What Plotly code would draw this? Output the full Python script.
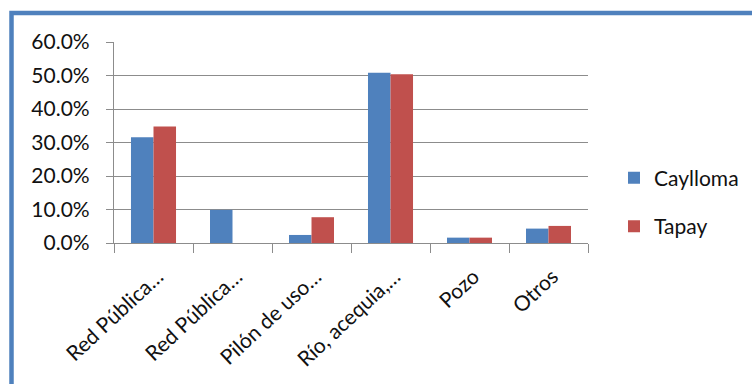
import plotly.graph_objects as go

categories = ["Red Pública…", "Red Pública…", "Pilón de uso…", "Río, acequia,…", "Pozo", "Otros"]
cat_ids = ["c1", "c2", "c3", "c4", "c5", "c6"]
caylloma = [0.316, 0.099, 0.024, 0.508, 0.016, 0.043]
tapay = [0.348, 0.0, 0.077, 0.504, 0.016, 0.051]
ytick_vals = [0, 0.1, 0.2, 0.3, 0.4, 0.5, 0.6]
ytick_text = ["0.0%", "10.0%", "20.0%", "30.0%", "40.0%", "50.0%", "60.0%"]

W, H = 752, 384
L, R, T, B = 114, 588, 42, 243.5
FONT = "Lato"

fig = go.Figure()
fig.add_trace(go.Bar(x=cat_ids, y=caylloma, name="Caylloma",
                     marker=dict(color="#4F81BD", line=dict(width=0)),
                     legendgroup="a"))
fig.add_trace(go.Bar(x=cat_ids, y=tapay, name="Tapay",
                     marker=dict(color="#C0504D", line=dict(width=0)),
                     legendgroup="b"))

def px2paper_x(px):
    return (px - L) / (R - L)

def px2paper_y(py):
    return (B - py) / (B - T)

# blue frame around the chart
fig.add_shape(type="rect", xref="paper", yref="paper",
              x0=px2paper_x(11.5), x1=px2paper_x(800), y0=px2paper_y(420), y1=px2paper_y(13),
              line=dict(color="#4F81BD", width=4.5), fillcolor="rgba(0,0,0,0)", layer="above")

fig.update_layout(
    width=W, height=H,
    margin=dict(l=L, r=W - R, t=T, b=H - B, pad=0, autoexpand=False),
    paper_bgcolor="white", plot_bgcolor="white",
    barmode="group", bargap=0.43, bargroupgap=0,
    font=dict(family=FONT, size=21, color="#111111"),
    showlegend=True,
    legend=dict(x=px2paper_x(614), y=px2paper_y(158), xanchor="left", yanchor="top",
                font=dict(family=FONT, size=21, color="#111111"),
                tracegroupgap=18, itemwidth=30, bgcolor="rgba(0,0,0,0)", borderwidth=0),
    xaxis=dict(type="category", tickmode="array", tickvals=cat_ids, ticktext=categories,
               tickangle=-43, showline=True, linecolor="#8c8c8c", linewidth=1.3,
               ticks="outside", ticklen=9, tickcolor="#8c8c8c", tickwidth=1.3,
               tickson="boundaries", showgrid=False, range=[-0.5, 5.5],
               ticklabelshift=4, ticklabelstandoff=12,
               tickfont=dict(family=FONT, size=21, color="#111111")),
    yaxis=dict(range=[0, 0.6], tickmode="array", tickvals=ytick_vals, ticktext=ytick_text,
               showgrid=True, gridcolor="#8c8c8c", gridwidth=1.3,
               showline=True, linecolor="#8c8c8c", linewidth=1.3,
               ticks="outside", ticklen=7, tickcolor="#8c8c8c", tickwidth=1.3,
               ticklabelstandoff=12, zeroline=False,
               tickfont=dict(family=FONT, size=21, color="#111111")),
)

fig.write_html("out.html")
